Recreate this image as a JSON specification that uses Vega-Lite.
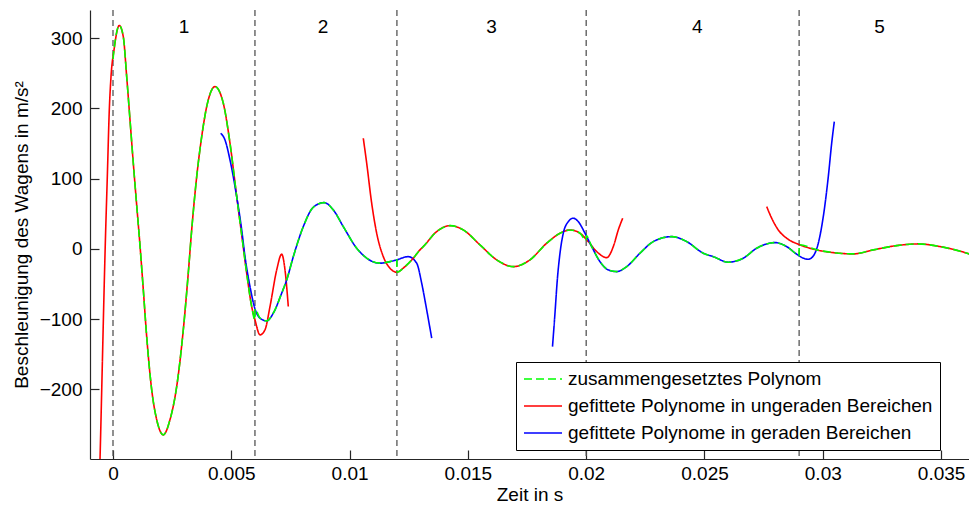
{
  "$schema": "https://vega.github.io/schema/vega-lite/v6.json",
  "width": 879,
  "height": 449,
  "autosize": {"type": "none"},
  "padding": {"left": 90, "top": 10, "right": 0, "bottom": 46},
  "background": "white",
  "config": {
    "font": "Liberation Sans",
    "view": {"stroke": null},
    "axis": {
      "grid": false,
      "domainColor": "#262626",
      "domainWidth": 1.2,
      "tickColor": "#262626",
      "tickWidth": 1.2,
      "tickSize": -9,
      "labelColor": "black",
      "labelFontSize": 19,
      "titleFontSize": 19,
      "titleFontWeight": "normal",
      "titleColor": "black"
    },
    "axisX": {"labelPadding": 14, "titlePadding": 2},
    "axisY": {"labelPadding": 17, "titlePadding": 8}
  },
  "datasets": {
    "curves": [
      {"series": "gefittete Polynome in ungeraden Bereichen", "curve": "r1", "t": -0.00058, "a": -340},
      {"series": "gefittete Polynome in ungeraden Bereichen", "curve": "r1", "t": -0.000549, "a": -300},
      {"series": "gefittete Polynome in ungeraden Bereichen", "curve": "r1", "t": -0.000309, "a": 27},
      {"series": "gefittete Polynome in ungeraden Bereichen", "curve": "r1", "t": -0.000241, "a": 102},
      {"series": "gefittete Polynome in ungeraden Bereichen", "curve": "r1", "t": -0.000156, "a": 198},
      {"series": "gefittete Polynome in ungeraden Bereichen", "curve": "r1", "t": -0.0000845, "a": 245},
      {"series": "gefittete Polynome in ungeraden Bereichen", "curve": "r1", "t": 0.0000423, "a": 283},
      {"series": "gefittete Polynome in ungeraden Bereichen", "curve": "r1", "t": 0.000266, "a": 318},
      {"series": "gefittete Polynome in ungeraden Bereichen", "curve": "r1", "t": 0.000435, "a": 302},
      {"series": "gefittete Polynome in ungeraden Bereichen", "curve": "r1", "t": 0.000579, "a": 245},
      {"series": "gefittete Polynome in ungeraden Bereichen", "curve": "r1", "t": 0.000719, "a": 183.5},
      {"series": "gefittete Polynome in ungeraden Bereichen", "curve": "r1", "t": 0.000858, "a": 122},
      {"series": "gefittete Polynome in ungeraden Bereichen", "curve": "r1", "t": 0.001002, "a": 62},
      {"series": "gefittete Polynome in ungeraden Bereichen", "curve": "r1", "t": 0.001141, "a": 5},
      {"series": "gefittete Polynome in ungeraden Bereichen", "curve": "r1", "t": 0.001281, "a": -58},
      {"series": "gefittete Polynome in ungeraden Bereichen", "curve": "r1", "t": 0.001424, "a": -124.8},
      {"series": "gefittete Polynome in ungeraden Bereichen", "curve": "r1", "t": 0.001636, "a": -200.6},
      {"series": "gefittete Polynome in ungeraden Bereichen", "curve": "r1", "t": 0.001847, "a": -243},
      {"series": "gefittete Polynome in ungeraden Bereichen", "curve": "r1", "t": 0.002126, "a": -264.6},
      {"series": "gefittete Polynome in ungeraden Bereichen", "curve": "r1", "t": 0.002409, "a": -243},
      {"series": "gefittete Polynome in ungeraden Bereichen", "curve": "r1", "t": 0.002692, "a": -195.9},
      {"series": "gefittete Polynome in ungeraden Bereichen", "curve": "r1", "t": 0.002971, "a": -115.2},
      {"series": "gefittete Polynome in ungeraden Bereichen", "curve": "r1", "t": 0.003183, "a": -34},
      {"series": "gefittete Polynome in ungeraden Bereichen", "curve": "r1", "t": 0.003326, "a": 27},
      {"series": "gefittete Polynome in ungeraden Bereichen", "curve": "r1", "t": 0.003538, "a": 102.8},
      {"series": "gefittete Polynome in ungeraden Bereichen", "curve": "r1", "t": 0.003749, "a": 159.7},
      {"series": "gefittete Polynome in ungeraden Bereichen", "curve": "r1", "t": 0.00396, "a": 202.4},
      {"series": "gefittete Polynome in ungeraden Bereichen", "curve": "r1", "t": 0.004311, "a": 230.9},
      {"series": "gefittete Polynome in ungeraden Bereichen", "curve": "r1", "t": 0.004662, "a": 207.3},
      {"series": "gefittete Polynome in ungeraden Bereichen", "curve": "r1", "t": 0.004945, "a": 150.4},
      {"series": "gefittete Polynome in ungeraden Bereichen", "curve": "r1", "t": 0.005229, "a": 74.4},
      {"series": "gefittete Polynome in ungeraden Bereichen", "curve": "r1", "t": 0.00544, "a": 19.9},
      {"series": "gefittete Polynome in ungeraden Bereichen", "curve": "r1", "t": 0.005651, "a": -34.6},
      {"series": "gefittete Polynome in ungeraden Bereichen", "curve": "r1", "t": 0.005862, "a": -82},
      {"series": "gefittete Polynome in ungeraden Bereichen", "curve": "r1", "t": 0.006002, "a": -101},
      {"series": "gefittete Polynome in ungeraden Bereichen", "curve": "r1", "t": 0.006213, "a": -122.3},
      {"series": "gefittete Polynome in ungeraden Bereichen", "curve": "r1", "t": 0.006424, "a": -115.2},
      {"series": "gefittete Polynome in ungeraden Bereichen", "curve": "r1", "t": 0.006636, "a": -82},
      {"series": "gefittete Polynome in ungeraden Bereichen", "curve": "r1", "t": 0.006919, "a": -29.9},
      {"series": "gefittete Polynome in ungeraden Bereichen", "curve": "r1", "t": 0.00713, "a": -7.5},
      {"series": "gefittete Polynome in ungeraden Bereichen", "curve": "r1", "t": 0.00727, "a": -29.9},
      {"series": "gefittete Polynome in ungeraden Bereichen", "curve": "r1", "t": 0.007409, "a": -82},

      {"series": "gefittete Polynome in geraden Bereichen", "curve": "b2", "t": 0.004552, "a": 164.6},
      {"series": "gefittete Polynome in geraden Bereichen", "curve": "b2", "t": 0.004734, "a": 155},
      {"series": "gefittete Polynome in geraden Bereichen", "curve": "b2", "t": 0.004945, "a": 126.6},
      {"series": "gefittete Polynome in geraden Bereichen", "curve": "b2", "t": 0.005228, "a": 74.4},
      {"series": "gefittete Polynome in geraden Bereichen", "curve": "b2", "t": 0.00544, "a": 27},
      {"series": "gefittete Polynome in geraden Bereichen", "curve": "b2", "t": 0.005579, "a": -11},
      {"series": "gefittete Polynome in geraden Bereichen", "curve": "b2", "t": 0.00579, "a": -53.6},
      {"series": "gefittete Polynome in geraden Bereichen", "curve": "b2", "t": 0.006002, "a": -85.4},
      {"series": "gefittete Polynome in geraden Bereichen", "curve": "b2", "t": 0.006213, "a": -98.6},
      {"series": "gefittete Polynome in geraden Bereichen", "curve": "b2", "t": 0.006496, "a": -102.4},
      {"series": "gefittete Polynome in geraden Bereichen", "curve": "b2", "t": 0.006775, "a": -91.5},
      {"series": "gefittete Polynome in geraden Bereichen", "curve": "b2", "t": 0.00713, "a": -63},
      {"series": "gefittete Polynome in geraden Bereichen", "curve": "b2", "t": 0.007342, "a": -44.1},
      {"series": "gefittete Polynome in geraden Bereichen", "curve": "b2", "t": 0.007621, "a": -11},
      {"series": "gefittete Polynome in geraden Bereichen", "curve": "b2", "t": 0.008043, "a": 31.7},
      {"series": "gefittete Polynome in geraden Bereichen", "curve": "b2", "t": 0.008466, "a": 59.3},
      {"series": "gefittete Polynome in geraden Bereichen", "curve": "b2", "t": 0.008918, "a": 65.9},
      {"series": "gefittete Polynome in geraden Bereichen", "curve": "b2", "t": 0.009311, "a": 55.5},
      {"series": "gefittete Polynome in geraden Bereichen", "curve": "b2", "t": 0.009734, "a": 31.7},
      {"series": "gefittete Polynome in geraden Bereichen", "curve": "b2", "t": 0.0103, "a": 1.0},
      {"series": "gefittete Polynome in geraden Bereichen", "curve": "b2", "t": 0.010723, "a": -13.2},
      {"series": "gefittete Polynome in geraden Bereichen", "curve": "b2", "t": 0.011285, "a": -20.3},
      {"series": "gefittete Polynome in geraden Bereichen", "curve": "b2", "t": 0.011708, "a": -18.1},
      {"series": "gefittete Polynome in geraden Bereichen", "curve": "b2", "t": 0.011991, "a": -15.6},
      {"series": "gefittete Polynome in geraden Bereichen", "curve": "b2", "t": 0.012481, "a": -11},
      {"series": "gefittete Polynome in geraden Bereichen", "curve": "b2", "t": 0.012836, "a": -20.3},
      {"series": "gefittete Polynome in geraden Bereichen", "curve": "b2", "t": 0.013047, "a": -48.8},
      {"series": "gefittete Polynome in geraden Bereichen", "curve": "b2", "t": 0.013259, "a": -86.8},
      {"series": "gefittete Polynome in geraden Bereichen", "curve": "b2", "t": 0.01347, "a": -127},

      {"series": "gefittete Polynome in ungeraden Bereichen", "curve": "r3", "t": 0.010579, "a": 157.5},
      {"series": "gefittete Polynome in ungeraden Bereichen", "curve": "r3", "t": 0.010723, "a": 121.9},
      {"series": "gefittete Polynome in ungeraden Bereichen", "curve": "r3", "t": 0.010934, "a": 65},
      {"series": "gefittete Polynome in ungeraden Bereichen", "curve": "r3", "t": 0.011145, "a": 22.3},
      {"series": "gefittete Polynome in ungeraden Bereichen", "curve": "r3", "t": 0.011425, "a": -11},
      {"series": "gefittete Polynome in ungeraden Bereichen", "curve": "r3", "t": 0.011708, "a": -27.5},
      {"series": "gefittete Polynome in ungeraden Bereichen", "curve": "r3", "t": 0.011991, "a": -33.1},
      {"series": "gefittete Polynome in ungeraden Bereichen", "curve": "r3", "t": 0.012342, "a": -25.2},
      {"series": "gefittete Polynome in ungeraden Bereichen", "curve": "r3", "t": 0.012692, "a": -13.2},
      {"series": "gefittete Polynome in ungeraden Bereichen", "curve": "r3", "t": 0.012975, "a": -1.4},
      {"series": "gefittete Polynome in ungeraden Bereichen", "curve": "r3", "t": 0.013115, "a": 3.3},
      {"series": "gefittete Polynome in ungeraden Bereichen", "curve": "r3", "t": 0.013681, "a": 24.6},
      {"series": "gefittete Polynome in ungeraden Bereichen", "curve": "r3", "t": 0.014243, "a": 33.1},
      {"series": "gefittete Polynome in ungeraden Bereichen", "curve": "r3", "t": 0.014806, "a": 27},
      {"series": "gefittete Polynome in ungeraden Bereichen", "curve": "r3", "t": 0.015512, "a": 5.7},
      {"series": "gefittete Polynome in ungeraden Bereichen", "curve": "r3", "t": 0.016217, "a": -15.6},
      {"series": "gefittete Polynome in ungeraden Bereichen", "curve": "r3", "t": 0.016919, "a": -25.2},
      {"series": "gefittete Polynome in ungeraden Bereichen", "curve": "r3", "t": 0.017625, "a": -15.6},
      {"series": "gefittete Polynome in ungeraden Bereichen", "curve": "r3", "t": 0.018331, "a": 8.1},
      {"series": "gefittete Polynome in ungeraden Bereichen", "curve": "r3", "t": 0.018893, "a": 22.3},
      {"series": "gefittete Polynome in ungeraden Bereichen", "curve": "r3", "t": 0.019315, "a": 27},
      {"series": "gefittete Polynome in ungeraden Bereichen", "curve": "r3", "t": 0.019738, "a": 22.3},
      {"series": "gefittete Polynome in ungeraden Bereichen", "curve": "r3", "t": 0.020089, "a": 10.4},
      {"series": "gefittete Polynome in ungeraden Bereichen", "curve": "r3", "t": 0.020444, "a": -3.8},
      {"series": "gefittete Polynome in ungeraden Bereichen", "curve": "r3", "t": 0.020867, "a": -12.4},
      {"series": "gefittete Polynome in ungeraden Bereichen", "curve": "r3", "t": 0.021146, "a": 3.3},
      {"series": "gefittete Polynome in ungeraden Bereichen", "curve": "r3", "t": 0.021357, "a": 27},
      {"series": "gefittete Polynome in ungeraden Bereichen", "curve": "r3", "t": 0.021543, "a": 43.7},

      {"series": "gefittete Polynome in geraden Bereichen", "curve": "b4", "t": 0.018576, "a": -139},
      {"series": "gefittete Polynome in geraden Bereichen", "curve": "b4", "t": 0.018681, "a": -91.5},
      {"series": "gefittete Polynome in geraden Bereichen", "curve": "b4", "t": 0.018779, "a": -44.1},
      {"series": "gefittete Polynome in geraden Bereichen", "curve": "b4", "t": 0.018893, "a": -6.1},
      {"series": "gefittete Polynome in geraden Bereichen", "curve": "b4", "t": 0.019032, "a": 22.3},
      {"series": "gefittete Polynome in geraden Bereichen", "curve": "b4", "t": 0.019244, "a": 38.8},
      {"series": "gefittete Polynome in geraden Bereichen", "curve": "b4", "t": 0.019455, "a": 43.7},
      {"series": "gefittete Polynome in geraden Bereichen", "curve": "b4", "t": 0.019666, "a": 38.8},
      {"series": "gefittete Polynome in geraden Bereichen", "curve": "b4", "t": 0.019949, "a": 22.3},
      {"series": "gefittete Polynome in geraden Bereichen", "curve": "b4", "t": 0.020233, "a": 3.3},
      {"series": "gefittete Polynome in geraden Bereichen", "curve": "b4", "t": 0.020583, "a": -18.1},
      {"series": "gefittete Polynome in geraden Bereichen", "curve": "b4", "t": 0.020934, "a": -29.9},
      {"series": "gefittete Polynome in geraden Bereichen", "curve": "b4", "t": 0.021289, "a": -32.3},
      {"series": "gefittete Polynome in geraden Bereichen", "curve": "b4", "t": 0.021712, "a": -25.2},
      {"series": "gefittete Polynome in geraden Bereichen", "curve": "b4", "t": 0.022274, "a": -6.1},
      {"series": "gefittete Polynome in geraden Bereichen", "curve": "b4", "t": 0.022836, "a": 10.4},
      {"series": "gefittete Polynome in geraden Bereichen", "curve": "b4", "t": 0.023614, "a": 17.5},
      {"series": "gefittete Polynome in geraden Bereichen", "curve": "b4", "t": 0.024248, "a": 10.4},
      {"series": "gefittete Polynome in geraden Bereichen", "curve": "b4", "t": 0.024949, "a": -6.1},
      {"series": "gefittete Polynome in geraden Bereichen", "curve": "b4", "t": 0.025372, "a": -11},
      {"series": "gefittete Polynome in geraden Bereichen", "curve": "b4", "t": 0.026006, "a": -18.9},
      {"series": "gefittete Polynome in geraden Bereichen", "curve": "b4", "t": 0.02664, "a": -13.2},
      {"series": "gefittete Polynome in geraden Bereichen", "curve": "b4", "t": 0.027207, "a": 1.0},
      {"series": "gefittete Polynome in geraden Bereichen", "curve": "b4", "t": 0.02798, "a": 9.0},
      {"series": "gefittete Polynome in geraden Bereichen", "curve": "b4", "t": 0.028474, "a": 3.3},
      {"series": "gefittete Polynome in geraden Bereichen", "curve": "b4", "t": 0.028897, "a": -7.5},
      {"series": "gefittete Polynome in geraden Bereichen", "curve": "b4", "t": 0.029176, "a": -13.2},
      {"series": "gefittete Polynome in geraden Bereichen", "curve": "b4", "t": 0.029387, "a": -14.7},
      {"series": "gefittete Polynome in geraden Bereichen", "curve": "b4", "t": 0.029599, "a": -10},
      {"series": "gefittete Polynome in geraden Bereichen", "curve": "b4", "t": 0.02981, "a": 8.1},
      {"series": "gefittete Polynome in geraden Bereichen", "curve": "b4", "t": 0.030021, "a": 45.9},
      {"series": "gefittete Polynome in geraden Bereichen", "curve": "b4", "t": 0.030233, "a": 102.8},
      {"series": "gefittete Polynome in geraden Bereichen", "curve": "b4", "t": 0.030376, "a": 150.4},
      {"series": "gefittete Polynome in geraden Bereichen", "curve": "b4", "t": 0.030486, "a": 181},

      {"series": "gefittete Polynome in ungeraden Bereichen", "curve": "r5", "t": 0.027629, "a": 60.2},
      {"series": "gefittete Polynome in ungeraden Bereichen", "curve": "r5", "t": 0.02784, "a": 43.7},
      {"series": "gefittete Polynome in ungeraden Bereichen", "curve": "r5", "t": 0.028119, "a": 27},
      {"series": "gefittete Polynome in ungeraden Bereichen", "curve": "r5", "t": 0.028474, "a": 15.2},
      {"series": "gefittete Polynome in ungeraden Bereichen", "curve": "r5", "t": 0.029036, "a": 5.7},
      {"series": "gefittete Polynome in ungeraden Bereichen", "curve": "r5", "t": 0.029742, "a": -1.4},
      {"series": "gefittete Polynome in ungeraden Bereichen", "curve": "r5", "t": 0.030444, "a": -5.3},
      {"series": "gefittete Polynome in ungeraden Bereichen", "curve": "r5", "t": 0.031289, "a": -7.1},
      {"series": "gefittete Polynome in ungeraden Bereichen", "curve": "r5", "t": 0.032134, "a": -1.4},
      {"series": "gefittete Polynome in ungeraden Bereichen", "curve": "r5", "t": 0.033123, "a": 4.7},
      {"series": "gefittete Polynome in ungeraden Bereichen", "curve": "r5", "t": 0.034036, "a": 7.1},
      {"series": "gefittete Polynome in ungeraden Bereichen", "curve": "r5", "t": 0.034953, "a": 3.3},
      {"series": "gefittete Polynome in ungeraden Bereichen", "curve": "r5", "t": 0.036179, "a": -7.1},
      {"series": "gefittete Polynome in ungeraden Bereichen", "curve": "r5", "t": 0.0363, "a": -8.5}
    ],
    "composite": [
      {"series": "zusammengesetztes Polynom", "t": 0, "a": 270},
      {"series": "zusammengesetztes Polynom", "t": 0.0000423, "a": 283},
      {"series": "zusammengesetztes Polynom", "t": 0.000266, "a": 318},
      {"series": "zusammengesetztes Polynom", "t": 0.000435, "a": 302},
      {"series": "zusammengesetztes Polynom", "t": 0.000579, "a": 245},
      {"series": "zusammengesetztes Polynom", "t": 0.000719, "a": 183.5},
      {"series": "zusammengesetztes Polynom", "t": 0.000858, "a": 122},
      {"series": "zusammengesetztes Polynom", "t": 0.001002, "a": 62},
      {"series": "zusammengesetztes Polynom", "t": 0.001141, "a": 5},
      {"series": "zusammengesetztes Polynom", "t": 0.001281, "a": -58},
      {"series": "zusammengesetztes Polynom", "t": 0.001424, "a": -124.8},
      {"series": "zusammengesetztes Polynom", "t": 0.001636, "a": -200.6},
      {"series": "zusammengesetztes Polynom", "t": 0.001847, "a": -243},
      {"series": "zusammengesetztes Polynom", "t": 0.002126, "a": -264.6},
      {"series": "zusammengesetztes Polynom", "t": 0.002409, "a": -243},
      {"series": "zusammengesetztes Polynom", "t": 0.002692, "a": -195.9},
      {"series": "zusammengesetztes Polynom", "t": 0.002971, "a": -115.2},
      {"series": "zusammengesetztes Polynom", "t": 0.003183, "a": -34},
      {"series": "zusammengesetztes Polynom", "t": 0.003326, "a": 27},
      {"series": "zusammengesetztes Polynom", "t": 0.003538, "a": 102.8},
      {"series": "zusammengesetztes Polynom", "t": 0.003749, "a": 159.7},
      {"series": "zusammengesetztes Polynom", "t": 0.00396, "a": 202.4},
      {"series": "zusammengesetztes Polynom", "t": 0.004311, "a": 230.9},
      {"series": "zusammengesetztes Polynom", "t": 0.004662, "a": 207.3},
      {"series": "zusammengesetztes Polynom", "t": 0.004945, "a": 150.4},
      {"series": "zusammengesetztes Polynom", "t": 0.005229, "a": 74.4},
      {"series": "zusammengesetztes Polynom", "t": 0.00544, "a": 19.9},
      {"series": "zusammengesetztes Polynom", "t": 0.005651, "a": -34.6},
      {"series": "zusammengesetztes Polynom", "t": 0.005862, "a": -82},
      {"series": "zusammengesetztes Polynom", "t": 0.006, "a": -101},
      {"series": "zusammengesetztes Polynom", "t": 0.0060005, "a": -85.4},
      {"series": "zusammengesetztes Polynom", "t": 0.006213, "a": -98.6},
      {"series": "zusammengesetztes Polynom", "t": 0.006496, "a": -102.4},
      {"series": "zusammengesetztes Polynom", "t": 0.006775, "a": -91.5},
      {"series": "zusammengesetztes Polynom", "t": 0.00713, "a": -63},
      {"series": "zusammengesetztes Polynom", "t": 0.007342, "a": -44.1},
      {"series": "zusammengesetztes Polynom", "t": 0.007621, "a": -11},
      {"series": "zusammengesetztes Polynom", "t": 0.008043, "a": 31.7},
      {"series": "zusammengesetztes Polynom", "t": 0.008466, "a": 59.3},
      {"series": "zusammengesetztes Polynom", "t": 0.008918, "a": 65.9},
      {"series": "zusammengesetztes Polynom", "t": 0.009311, "a": 55.5},
      {"series": "zusammengesetztes Polynom", "t": 0.009734, "a": 31.7},
      {"series": "zusammengesetztes Polynom", "t": 0.0103, "a": 1.0},
      {"series": "zusammengesetztes Polynom", "t": 0.010723, "a": -13.2},
      {"series": "zusammengesetztes Polynom", "t": 0.011285, "a": -20.3},
      {"series": "zusammengesetztes Polynom", "t": 0.011708, "a": -18.1},
      {"series": "zusammengesetztes Polynom", "t": 0.012, "a": -15.6},
      {"series": "zusammengesetztes Polynom", "t": 0.0120005, "a": -33.1},
      {"series": "zusammengesetztes Polynom", "t": 0.012342, "a": -25.2},
      {"series": "zusammengesetztes Polynom", "t": 0.012692, "a": -13.2},
      {"series": "zusammengesetztes Polynom", "t": 0.012975, "a": -1.4},
      {"series": "zusammengesetztes Polynom", "t": 0.013115, "a": 3.3},
      {"series": "zusammengesetztes Polynom", "t": 0.013681, "a": 24.6},
      {"series": "zusammengesetztes Polynom", "t": 0.014243, "a": 33.1},
      {"series": "zusammengesetztes Polynom", "t": 0.014806, "a": 27},
      {"series": "zusammengesetztes Polynom", "t": 0.015512, "a": 5.7},
      {"series": "zusammengesetztes Polynom", "t": 0.016217, "a": -15.6},
      {"series": "zusammengesetztes Polynom", "t": 0.016919, "a": -25.2},
      {"series": "zusammengesetztes Polynom", "t": 0.017625, "a": -15.6},
      {"series": "zusammengesetztes Polynom", "t": 0.018331, "a": 8.1},
      {"series": "zusammengesetztes Polynom", "t": 0.018893, "a": 22.3},
      {"series": "zusammengesetztes Polynom", "t": 0.019315, "a": 27},
      {"series": "zusammengesetztes Polynom", "t": 0.019738, "a": 22.3},
      {"series": "zusammengesetztes Polynom", "t": 0.02, "a": 12},
      {"series": "zusammengesetztes Polynom", "t": 0.0200005, "a": 19},
      {"series": "zusammengesetztes Polynom", "t": 0.020233, "a": 3.3},
      {"series": "zusammengesetztes Polynom", "t": 0.020583, "a": -18.1},
      {"series": "zusammengesetztes Polynom", "t": 0.020934, "a": -29.9},
      {"series": "zusammengesetztes Polynom", "t": 0.021289, "a": -32.3},
      {"series": "zusammengesetztes Polynom", "t": 0.021712, "a": -25.2},
      {"series": "zusammengesetztes Polynom", "t": 0.022274, "a": -6.1},
      {"series": "zusammengesetztes Polynom", "t": 0.022836, "a": 10.4},
      {"series": "zusammengesetztes Polynom", "t": 0.023614, "a": 17.5},
      {"series": "zusammengesetztes Polynom", "t": 0.024248, "a": 10.4},
      {"series": "zusammengesetztes Polynom", "t": 0.024949, "a": -6.1},
      {"series": "zusammengesetztes Polynom", "t": 0.025372, "a": -11},
      {"series": "zusammengesetztes Polynom", "t": 0.026006, "a": -18.9},
      {"series": "zusammengesetztes Polynom", "t": 0.02664, "a": -13.2},
      {"series": "zusammengesetztes Polynom", "t": 0.027207, "a": 1.0},
      {"series": "zusammengesetztes Polynom", "t": 0.02798, "a": 9.0},
      {"series": "zusammengesetztes Polynom", "t": 0.028474, "a": 3.3},
      {"series": "zusammengesetztes Polynom", "t": 0.028897, "a": -7.5},
      {"series": "zusammengesetztes Polynom", "t": 0.029, "a": -9.5},
      {"series": "zusammengesetztes Polynom", "t": 0.0290005, "a": 6},
      {"series": "zusammengesetztes Polynom", "t": 0.029742, "a": -1.4},
      {"series": "zusammengesetztes Polynom", "t": 0.030444, "a": -5.3},
      {"series": "zusammengesetztes Polynom", "t": 0.031289, "a": -7.1},
      {"series": "zusammengesetztes Polynom", "t": 0.032134, "a": -1.4},
      {"series": "zusammengesetztes Polynom", "t": 0.033123, "a": 4.7},
      {"series": "zusammengesetztes Polynom", "t": 0.034036, "a": 7.1},
      {"series": "zusammengesetztes Polynom", "t": 0.034953, "a": 3.3},
      {"series": "zusammengesetztes Polynom", "t": 0.036179, "a": -7.1},
      {"series": "zusammengesetztes Polynom", "t": 0.0363, "a": -8.5}
    ],
    "bounds": [{"t": 0}, {"t": 0.006}, {"t": 0.012}, {"t": 0.02}, {"t": 0.029}],
    "regions": [
      {"t": 0.003, "a": 316, "label": "1"},
      {"t": 0.00888, "a": 316, "label": "2"},
      {"t": 0.016, "a": 316, "label": "3"},
      {"t": 0.0247, "a": 316, "label": "4"},
      {"t": 0.0324, "a": 316, "label": "5"}
    ]
  },
  "layer": [
    {
      "data": {"name": "bounds"},
      "mark": {"type": "rule", "color": "#555555", "strokeWidth": 1.3, "strokeDash": [6, 4]},
      "encoding": {
        "x": {"field": "t", "type": "quantitative", "scale": {"domain": [-0.000972, 0.03618], "nice": false, "zero": false},
          "axis": {"title": "Zeit in s", "values": [0, 0.005, 0.01, 0.015, 0.02, 0.025, 0.03, 0.035], "format": "~g"}}
      }
    },
    {
      "data": {"name": "curves"},
      "mark": {"type": "line", "clip": true, "strokeWidth": 1.6, "interpolate": "monotone"},
      "encoding": {
        "x": {"field": "t", "type": "quantitative", "scale": {"domain": [-0.000972, 0.03618], "nice": false, "zero": false},
          "axis": {"title": "Zeit in s", "values": [0, 0.005, 0.01, 0.015, 0.02, 0.025, 0.03, 0.035], "format": "~g"}},
        "y": {"field": "a", "type": "quantitative", "scale": {"domain": [-299, 340], "nice": false, "zero": false},
          "axis": {"title": "Beschleunigung des Wagens in m/s²", "values": [-200, -100, 0, 100, 200, 300]}},
        "color": {
          "field": "series", "type": "nominal",
          "scale": {
            "domain": ["zusammengesetztes Polynom", "gefittete Polynome in ungeraden Bereichen", "gefittete Polynome in geraden Bereichen"],
            "range": ["#00ff00", "#ff0000", "#0000ff"]
          },
          "legend": {
            "title": null,
            "orient": "none",
            "legendX": 426,
            "legendY": 352,
            "direction": "vertical",
            "strokeColor": "black",
            "fillColor": "white",
            "padding": 7,
            "symbolType": "stroke",
            "symbolSize": 1444,
            "symbolStrokeWidth": 1.6,
            "clipHeight": 20,
            "rowPadding": 7,
            "labelFontSize": 19,
            "labelLimit": 600,
            "labelColor": "black",
            "labelOffset": 5
          }
        },
        "strokeDash": {
          "field": "series", "type": "nominal",
          "scale": {
            "domain": ["zusammengesetztes Polynom", "gefittete Polynome in ungeraden Bereichen", "gefittete Polynome in geraden Bereichen"],
            "range": [[8, 4], [1, 0], [1, 0]]
          },
          "legend": {
            "title": null,
            "orient": "none",
            "legendX": 426,
            "legendY": 352,
            "direction": "vertical",
            "strokeColor": "black",
            "fillColor": "white",
            "padding": 7,
            "symbolType": "stroke",
            "symbolSize": 1444,
            "symbolStrokeWidth": 1.6,
            "clipHeight": 20,
            "rowPadding": 7,
            "labelFontSize": 19,
            "labelLimit": 600,
            "labelColor": "black",
            "labelOffset": 5
          }
        },
        "detail": {"field": "curve"}
      }
    },
    {
      "data": {"name": "composite"},
      "mark": {"type": "line", "clip": true, "strokeWidth": 1.6, "interpolate": "monotone"},
      "encoding": {
        "x": {"field": "t", "type": "quantitative", "scale": {"domain": [-0.000972, 0.03618], "nice": false, "zero": false},
          "axis": {"title": "Zeit in s", "values": [0, 0.005, 0.01, 0.015, 0.02, 0.025, 0.03, 0.035], "format": "~g"}},
        "y": {"field": "a", "type": "quantitative", "scale": {"domain": [-299, 340], "nice": false, "zero": false},
          "axis": {"title": "Beschleunigung des Wagens in m/s²", "values": [-200, -100, 0, 100, 200, 300]}},
        "color": {"field": "series", "type": "nominal"},
        "strokeDash": {"field": "series", "type": "nominal"}
      }
    },
    {
      "data": {"name": "regions"},
      "mark": {"type": "text", "fontSize": 19, "color": "black", "baseline": "middle", "align": "center"},
      "encoding": {
        "x": {"field": "t", "type": "quantitative", "scale": {"domain": [-0.000972, 0.03618], "nice": false, "zero": false},
          "axis": {"title": "Zeit in s", "values": [0, 0.005, 0.01, 0.015, 0.02, 0.025, 0.03, 0.035], "format": "~g"}},
        "y": {"field": "a", "type": "quantitative", "scale": {"domain": [-299, 340], "nice": false, "zero": false},
          "axis": {"title": "Beschleunigung des Wagens in m/s²", "values": [-200, -100, 0, 100, 200, 300]}},
        "text": {"field": "label"}
      }
    }
  ]
}
